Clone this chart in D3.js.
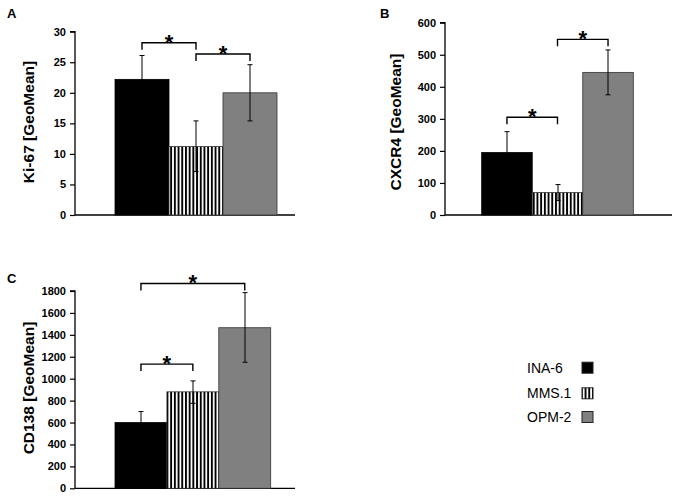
<!DOCTYPE html>
<html>
<head>
<meta charset="utf-8">
<script src="https://cdn.jsdelivr.net/npm/d3@7"></script>
<style>
  html, body { margin: 0; padding: 0; background: #fff; }
  svg { display: block; font-family: "Liberation Sans", Arial, sans-serif; }
</style>
</head>
<body>
<svg id="chart" width="679" height="499"></svg>
<script>
// ---------- data ----------
const series = ["INA-6", "MMS.1", "OPM-2"];

const ki67Values = [22.2, 11.2, 20.0];
const ki67Upper  = [26.1, 15.4, 24.6];
const ki67Lower  = [18.3, 7.1, 15.4];
const ki67Ticks  = [0, 5, 10, 15, 20, 25, 30];
const ki67Brackets = [[0, 1, 28.2], [1, 2, 26.35]];

const cxcr4Values = [195, 70, 445];
const cxcr4Upper  = [260, 95, 515];
const cxcr4Lower  = [130, 45, 375];
const cxcr4Ticks  = [0, 100, 200, 300, 400, 500, 600];
const cxcr4Brackets = [[0, 1, 305], [1, 2, 548]];

const cd138Values = [600, 880, 1465];
const cd138Upper  = [700, 980, 1785];
const cd138Lower  = [500, 775, 1150];
const cd138Ticks  = [0, 200, 400, 600, 800, 1000, 1200, 1400, 1600, 1800];
const cd138Brackets = [[0, 1, 1133], [0, 2, 1869]];

// ---------- drawing ----------
const svg = d3.select("#chart");
const defs = svg.append("defs");
const pat = defs.append("pattern")
  .attr("id", "stripes").attr("patternUnits", "userSpaceOnUse")
  .attr("width", 3.7).attr("height", 10);
pat.append("rect").attr("width", 3.7).attr("height", 10).attr("fill", "#fff");
pat.append("rect").attr("width", 1.9).attr("height", 10).attr("fill", "#000");

const fills = ["#000000", "url(#stripes)", "#808080"];

function panel(cfg) {
  const g = svg.append("g");
  const y = d3.scaleLinear().domain(cfg.domain).range(cfg.yRange);
  const x = d3.scaleBand().domain(series).range(cfg.barRange).padding(0);

  // y axis
  const yAxis = d3.axisLeft(y).tickValues(cfg.ticks).tickSize(5).tickPadding(4).tickFormat(d3.format("d"));
  const ag = g.append("g").attr("transform", `translate(${cfg.axisX},0)`).call(yAxis);
  ag.select(".domain").attr("stroke", "#000").attr("stroke-width", 1.3)
    .attr("d", `M-5,${y(cfg.domain[1])}H0V${y(0)}`);
  ag.selectAll(".tick line").attr("stroke", "#000").attr("stroke-width", 1.2);
  ag.selectAll(".tick text").attr("font-size", 11).attr("font-weight", "bold")
    .attr("font-family", "'Liberation Sans', Arial, sans-serif").attr("fill", "#000");

  // x axis line
  g.append("line").attr("x1", cfg.axisX).attr("x2", cfg.xEnd)
    .attr("y1", y(0)).attr("y2", y(0)).attr("stroke", "#000").attr("stroke-width", 1.3);

  // bars
  g.selectAll("rect.bar").data(series).join("rect").attr("class", "bar")
    .attr("x", d => x(d)).attr("width", x.bandwidth())
    .attr("y", (d, i) => y(cfg.values[i]))
    .attr("height", (d, i) => y(0) - y(cfg.values[i]))
    .attr("fill", (d, i) => fills[i])
    .attr("stroke", (d, i) => i === 0 ? "#000" : "#333")
    .attr("stroke-width", 0.8);

  // error bars
  series.forEach((s, i) => {
    const cx = Math.round(x(s) + x.bandwidth() / 2);
    g.append("line").attr("x1", cx).attr("x2", cx)
      .attr("y1", y(cfg.upper[i])).attr("y2", y(cfg.lower[i]))
      .attr("stroke", "#000").attr("stroke-width", 1);
    [cfg.upper[i], cfg.lower[i]].forEach(v => {
      g.append("line").attr("x1", cx - 2.5).attr("x2", cx + 2.5)
        .attr("y1", y(v)).attr("y2", y(v))
        .attr("stroke", "#000").attr("stroke-width", 1);
    });
  });

  // significance brackets
  cfg.brackets.forEach(([a, b, v]) => {
    const x1 = x(series[a]) + x.bandwidth() / 2;
    const x2 = x(series[b]) + x.bandwidth() / 2;
    const yy = y(v);
    g.append("path").attr("d", `M${x1},${yy + 7}V${yy}H${x2}V${yy + 7}`)
      .attr("fill", "none").attr("stroke", "#000").attr("stroke-width", 1.4);
    g.append("text").attr("x", (x1 + x2) / 2).attr("y", yy + 7)
      .attr("text-anchor", "middle").attr("font-size", 22).attr("font-weight", "bold")
      .text("*");
  });

  // y title
  g.append("text")
    .attr("transform", `translate(${cfg.titleX},${cfg.titleY}) rotate(-90)`)
    .attr("text-anchor", "middle").attr("dominant-baseline", "central")
    .attr("font-size", 15.5).attr("font-weight", "bold").text(cfg.title);

  // panel letter
  g.append("text").attr("x", cfg.letterX).attr("y", cfg.letterY)
    .attr("font-size", 13).attr("font-weight", "bold").text(cfg.letter);
}

panel({
  letter: "A", letterX: 7, letterY: 18,
  title: "Ki-67 [GeoMean]", titleX: 28, titleY: 122,
  domain: [0, 30], yRange: [215, 31.7], ticks: ki67Ticks,
  axisX: 75, xEnd: 295, barRange: [115, 277],
  values: ki67Values, upper: ki67Upper, lower: ki67Lower, brackets: ki67Brackets
});
panel({
  letter: "B", letterX: 380, letterY: 18,
  title: "CXCR4 [GeoMean]", titleX: 395, titleY: 122,
  domain: [0, 600], yRange: [215, 22.7], ticks: cxcr4Ticks,
  axisX: 445, xEnd: 672, barRange: [481.7, 633.3],
  values: cxcr4Values, upper: cxcr4Upper, lower: cxcr4Lower, brackets: cxcr4Brackets
});
panel({
  letter: "C", letterX: 7, letterY: 283,
  title: "CD138 [GeoMean]", titleX: 28, titleY: 388,
  domain: [0, 1800], yRange: [488.3, 291], ticks: cd138Ticks,
  axisX: 75, xEnd: 295, barRange: [115, 270.7],
  values: cd138Values, upper: cd138Upper, lower: cd138Lower, brackets: cd138Brackets
});

// legend
const legendY = [367.7, 393.3, 417];
const lg = svg.append("g");
series.forEach((s, i) => {
  lg.append("text").attr("x", 527).attr("y", legendY[i])
    .attr("dominant-baseline", "central").attr("font-size", 14).text(s);
  lg.append("rect").attr("x", 582).attr("y", legendY[i] - 5.5)
    .attr("width", 11).attr("height", 11)
    .attr("fill", fills[i]).attr("stroke", "#222").attr("stroke-width", 1);
});
</script>
</body>
</html>
